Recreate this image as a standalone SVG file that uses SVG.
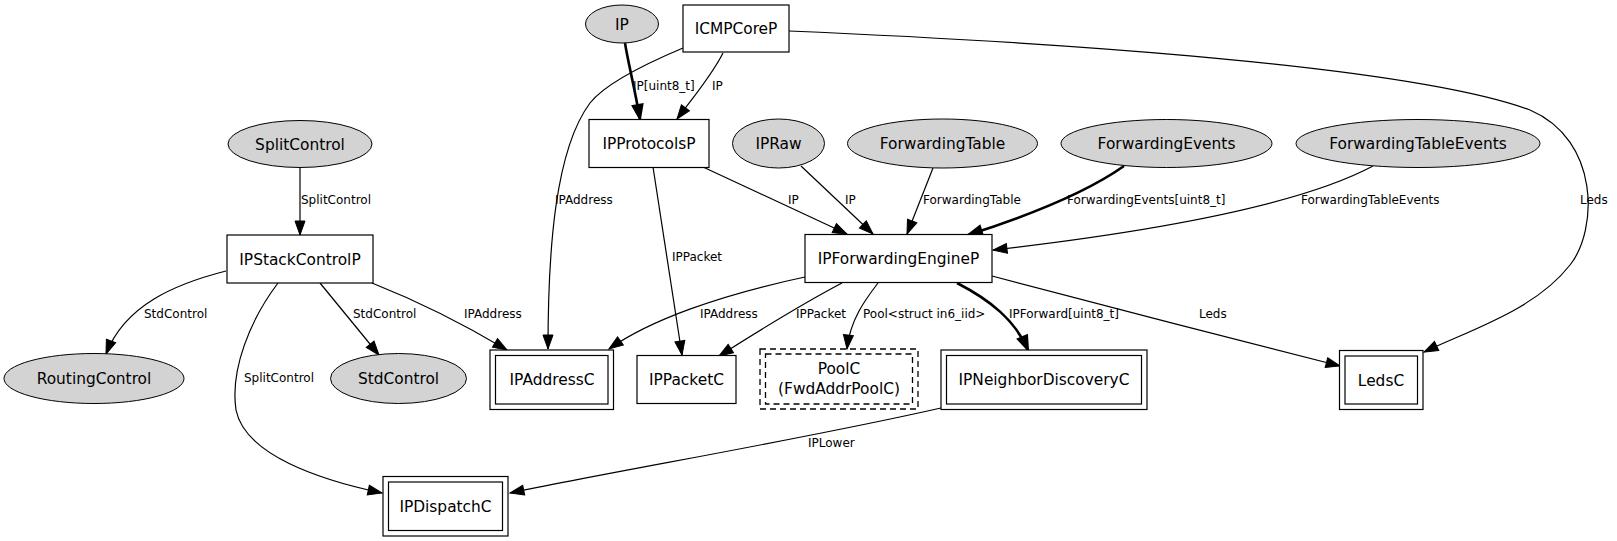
<svg xmlns="http://www.w3.org/2000/svg" width="1617" height="541" viewBox="0 0 1617 541">
<style>
.bg{fill:#ffffff}
.ell{fill:#d3d3d3;stroke:#000;stroke-width:1}
.box{fill:#fff;stroke:#000;stroke-width:1.2}
.dash{fill:none;stroke:#000;stroke-width:1.3;stroke-dasharray:6,4}
.nl{font-family:"DejaVu Sans",sans-serif;font-size:15.4px;fill:#000;text-anchor:middle}
.el{font-family:"DejaVu Sans",sans-serif;font-size:12px;fill:#000}
.e{fill:none;stroke:#000;stroke-width:1.2}
.b{fill:none;stroke:#000;stroke-width:2.6}
</style>
<defs>
<marker id="ah" markerUnits="userSpaceOnUse" markerWidth="16" markerHeight="12" refX="14" refY="5" orient="auto" overflow="visible">
<path d="M0,0 L14,5 L0,10 z" fill="#000" stroke="#000" stroke-width="1"/>
</marker>
<marker id="ahb" markerUnits="userSpaceOnUse" markerWidth="16" markerHeight="12" refX="14" refY="5" orient="auto" overflow="visible">
<path d="M0,0 L14,5 L0,10 z" fill="#000" stroke="#000" stroke-width="2"/>
</marker>
</defs>
<rect class="bg" x="0" y="0" width="1617" height="541"/>
<g id="connectors">
<path class="b" marker-end="url(#ahb)" d="M625,43 C628,62 634,85 640,119"/>
<text class="el" x="633" y="90">IP[uint8_t]</text>
<path class="e" marker-end="url(#ah)" d="M723,53 C712,75 695,95 677,119"/>
<text class="el" x="712" y="90">IP</text>
<path class="e" marker-end="url(#ah)" d="M683,48 C645,64 605,84 590,103 C555,150 548,250 548,349"/>
<text class="el" x="555" y="204">IPAddress</text>
<path class="e" marker-end="url(#ah)" d="M653,167 L682,355"/>
<text class="el" x="672" y="261">IPPacket</text>
<path class="e" marker-end="url(#ah)" d="M703,167 L847,234"/>
<text class="el" x="788" y="204">IP</text>
<path class="e" marker-end="url(#ah)" d="M801,166 L873,234"/>
<text class="el" x="845" y="204">IP</text>
<path class="e" marker-end="url(#ah)" d="M933,168 L907,234"/>
<text class="el" x="923" y="204">ForwardingTable</text>
<path class="b" marker-end="url(#ahb)" d="M1124,166 C1090,190 1040,212 968,235"/>
<text class="el" x="1067" y="204">ForwardingEvents[uint8_t]</text>
<path class="e" marker-end="url(#ah)" d="M1373,166 C1300,205 1150,232 993,250"/>
<text class="el" x="1301" y="204">ForwardingTableEvents</text>
<path class="e" marker-end="url(#ah)" d="M300,168 L300,235"/>
<text class="el" x="301" y="204">SplitControl</text>
<path class="e" marker-end="url(#ah)" d="M226,271 C175,284 125,305 106,354"/>
<text class="el" x="144" y="318">StdControl</text>
<path class="e" marker-end="url(#ah)" d="M320,283 L379,355"/>
<text class="el" x="353" y="318">StdControl</text>
<path class="e" marker-end="url(#ah)" d="M372,283 C420,302 460,322 507,350"/>
<text class="el" x="464" y="318">IPAddress</text>
<path class="e" marker-end="url(#ah)" d="M278,283 C250,320 230,370 236,410 C245,455 320,480 382,493"/>
<text class="el" x="244" y="382">SplitControl</text>
<path class="e" marker-end="url(#ah)" d="M805,277 C720,295 650,320 609,349"/>
<text class="el" x="700" y="318">IPAddress</text>
<path class="e" marker-end="url(#ah)" d="M842,283 C800,305 760,330 719,356"/>
<text class="el" x="796" y="318">IPPacket</text>
<path class="e" marker-end="url(#ah)" d="M878,283 C865,300 850,320 847,349"/>
<text class="el" x="863" y="318">Pool&lt;struct in6_iid&gt;</text>
<path class="b" marker-end="url(#ahb)" d="M957,283 C990,300 1015,320 1028,350"/>
<text class="el" x="1009" y="318">IPForward[uint8_t]</text>
<path class="e" marker-end="url(#ah)" d="M992,276 C1100,305 1230,338 1340,366"/>
<text class="el" x="1199" y="318">Leds</text>
<path class="e" marker-end="url(#ah)" d="M941,408 C800,440 620,470 510,493"/>
<text class="el" x="808" y="447">IPLower</text>
<path class="e" marker-end="url(#ah)" d="M789,31 C1000,40 1400,62 1530,110 C1600,140 1598,230 1570,265 C1535,310 1470,330 1424,352"/>
<text class="el" x="1580" y="204">Leds</text>
</g>
<g id="n_IP"><ellipse class="ell" cx="622" cy="24" rx="36.5" ry="19"/><text class="nl" x="622" y="29.5">IP</text></g>
<g id="n_ICMPCoreP"><rect class="box" x="683" y="5" width="106" height="47"/><text class="nl" x="736" y="34">ICMPCoreP</text></g>
<g id="n_SplitControl"><ellipse class="ell" cx="300" cy="144" rx="72" ry="23.5"/><text class="nl" x="300" y="149.5">SplitControl</text></g>
<g id="n_IPProtocolsP"><rect class="box" x="589" y="119.5" width="120" height="48"/><text class="nl" x="649" y="149">IPProtocolsP</text></g>
<g id="n_IPRaw"><ellipse class="ell" cx="778.5" cy="143.5" rx="46" ry="24.5"/><text class="nl" x="778.5" y="149">IPRaw</text></g>
<g id="n_ForwardingTable"><ellipse class="ell" cx="942.5" cy="143.5" rx="95" ry="24.5"/><text class="nl" x="942.5" y="149">ForwardingTable</text></g>
<g id="n_ForwardingEvents"><ellipse class="ell" cx="1166.5" cy="143.5" rx="105.5" ry="24"/><text class="nl" x="1166.5" y="149">ForwardingEvents</text></g>
<g id="n_ForwardingTableEvents"><ellipse class="ell" cx="1418" cy="143.5" rx="122" ry="24"/><text class="nl" x="1418" y="149">ForwardingTableEvents</text></g>
<g id="n_IPStackControlP"><rect class="box" x="227" y="235" width="146" height="48"/><text class="nl" x="300" y="264.5">IPStackControlP</text></g>
<g id="n_IPForwardingEngineP"><rect class="box" x="805" y="234.5" width="187" height="48"/><text class="nl" x="898.5" y="264">IPForwardingEngineP</text></g>
<g id="n_RoutingControl"><ellipse class="ell" cx="94" cy="378.5" rx="90" ry="25"/><text class="nl" x="94" y="384">RoutingControl</text></g>
<g id="n_StdControl"><ellipse class="ell" cx="398.5" cy="378.5" rx="68" ry="25"/><text class="nl" x="398.5" y="384">StdControl</text></g>
<g id="n_IPAddressC"><rect class="box" x="490" y="350" width="123.5" height="59.5"/><rect class="box" x="495.5" y="355.5" width="112.5" height="48.5"/><text class="nl" x="552" y="385">IPAddressC</text></g>
<g id="n_IPPacketC"><rect class="box" x="637" y="355.5" width="99" height="48"/><text class="nl" x="686.5" y="385">IPPacketC</text></g>
<g id="n_PoolC"><rect class="dash" x="760" y="349" width="158" height="60"/><rect class="dash" x="765.5" y="354" width="147" height="50"/><text class="nl" x="839" y="373.5">PoolC</text><text class="nl" x="839" y="393.5">(FwdAddrPoolC)</text></g>
<g id="n_IPNeighborDiscoveryC"><rect class="box" x="941" y="350" width="206" height="59.5"/><rect class="box" x="946.5" y="355.5" width="195" height="48.5"/><text class="nl" x="1044" y="385">IPNeighborDiscoveryC</text></g>
<g id="n_LedsC"><rect class="box" x="1339.5" y="350.5" width="83.5" height="59"/><rect class="box" x="1345" y="356" width="72.5" height="48"/><text class="nl" x="1381" y="385.5">LedsC</text></g>
<g id="n_IPDispatchC"><rect class="box" x="383" y="476.5" width="125" height="59.5"/><rect class="box" x="388.5" y="482" width="114" height="48.5"/><text class="nl" x="445.5" y="511.5">IPDispatchC</text></g>
</svg>
